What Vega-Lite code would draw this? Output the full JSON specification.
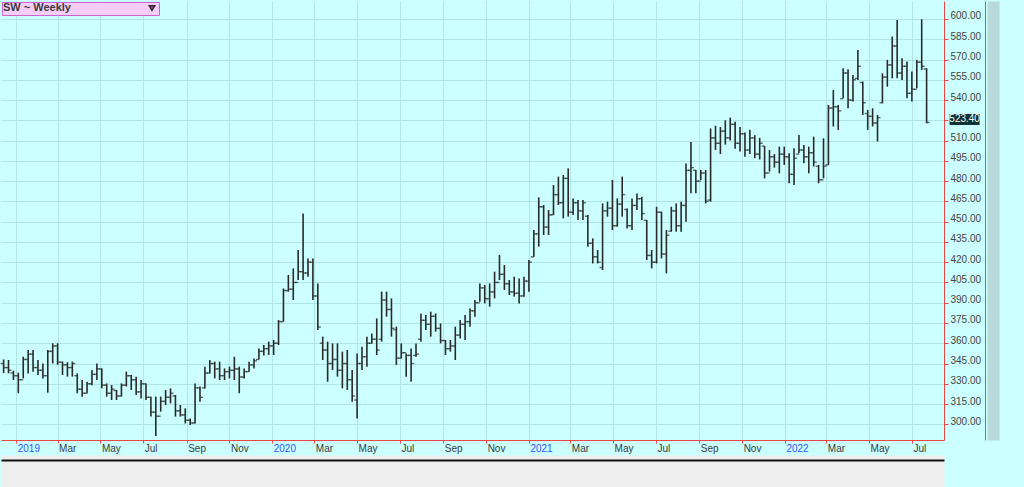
{
"$schema": "https://vega.github.io/schema/vega-lite/v6.json",
"autosize": "none",
"width": 943,
"height": 439,
"padding": {"left": 1, "top": 1, "right": 80, "bottom": 47},
"background": "#ccffff",
"config": {"view": {"stroke": null, "fill": "#ccffff"}, "font": "Liberation Sans"},
"data": {"values": [
{"d":"2018-12-14","o":345,"h":348,"l":338,"c":342},
{"d":"2018-12-21","o":342,"h":347.6,"l":337.7,"c":340},
{"d":"2018-12-28","o":338,"h":339.7,"l":332.8,"c":336},
{"d":"2019-01-04","o":336,"h":338.2,"l":323,"c":333},
{"d":"2019-01-11","o":333,"h":350,"l":334,"c":348},
{"d":"2019-01-18","o":348,"h":355,"l":337.7,"c":352},
{"d":"2019-01-25","o":352,"h":355,"l":339,"c":342},
{"d":"2019-02-01","o":342,"h":347.6,"l":336.5,"c":340},
{"d":"2019-02-08","o":340,"h":345,"l":334,"c":336},
{"d":"2019-02-15","o":336,"h":355,"l":323.4,"c":354},
{"d":"2019-02-22","o":354,"h":360,"l":345,"c":358},
{"d":"2019-03-01","o":358,"h":360,"l":344,"c":346},
{"d":"2019-03-08","o":346,"h":346.4,"l":336.5,"c":344},
{"d":"2019-03-15","o":344,"h":346,"l":335.3,"c":342},
{"d":"2019-03-22","o":342,"h":346.4,"l":335.3,"c":345},
{"d":"2019-03-29","o":336,"h":337.7,"l":323,"c":326},
{"d":"2019-04-05","o":326,"h":332.8,"l":320.5,"c":323},
{"d":"2019-04-12","o":323,"h":331.6,"l":323,"c":330},
{"d":"2019-04-19","o":330,"h":340.2,"l":329,"c":337},
{"d":"2019-04-26","o":337,"h":345,"l":332.8,"c":341},
{"d":"2019-05-03","o":341,"h":341.4,"l":326.6,"c":329},
{"d":"2019-05-10","o":329,"h":330.3,"l":320.5,"c":323},
{"d":"2019-05-17","o":323,"h":329,"l":318,"c":326},
{"d":"2019-05-24","o":325,"h":325.4,"l":318,"c":321},
{"d":"2019-05-31","o":321,"h":330.3,"l":320.5,"c":329},
{"d":"2019-06-07","o":329,"h":339,"l":328,"c":336},
{"d":"2019-06-14","o":336,"h":336.5,"l":325.4,"c":333},
{"d":"2019-06-21","o":333,"h":335.3,"l":321.7,"c":324},
{"d":"2019-06-28","o":324,"h":332.8,"l":319.2,"c":330},
{"d":"2019-07-05","o":330,"h":330.3,"l":318,"c":320},
{"d":"2019-07-12","o":320,"h":320.5,"l":305.7,"c":309},
{"d":"2019-07-19","o":309,"h":320.5,"l":291.4,"c":306},
{"d":"2019-07-26","o":306,"h":320.5,"l":309.4,"c":317},
{"d":"2019-08-02","o":317,"h":325.4,"l":314.3,"c":320},
{"d":"2019-08-09","o":320,"h":326.6,"l":315.5,"c":323},
{"d":"2019-08-16","o":321,"h":321.7,"l":305.7,"c":310},
{"d":"2019-08-23","o":310,"h":314.3,"l":305.7,"c":307},
{"d":"2019-08-30","o":307,"h":311.8,"l":300.7,"c":303},
{"d":"2019-09-06","o":303,"h":304.4,"l":299.5,"c":301},
{"d":"2019-09-13","o":301,"h":330.3,"l":300.7,"c":327},
{"d":"2019-09-20","o":327,"h":328,"l":316.8,"c":320},
{"d":"2019-09-27","o":327,"h":342.7,"l":326.6,"c":338},
{"d":"2019-10-04","o":338,"h":347.6,"l":337.7,"c":345},
{"d":"2019-10-11","o":345,"h":346.4,"l":334,"c":341},
{"d":"2019-10-18","o":341,"h":346.4,"l":332.8,"c":336},
{"d":"2019-10-25","o":336,"h":341.4,"l":332.8,"c":339},
{"d":"2019-11-01","o":339,"h":342.7,"l":334,"c":340},
{"d":"2019-11-08","o":340,"h":350,"l":332.8,"c":341},
{"d":"2019-11-15","o":341,"h":342.7,"l":323,"c":335},
{"d":"2019-11-22","o":335,"h":341.4,"l":334,"c":339},
{"d":"2019-11-29","o":339,"h":346.4,"l":339,"c":344},
{"d":"2019-12-06","o":344,"h":348.8,"l":341.4,"c":347},
{"d":"2019-12-13","o":348,"h":356.2,"l":348,"c":354},
{"d":"2019-12-20","o":354,"h":358.7,"l":351,"c":356},
{"d":"2019-12-27","o":356,"h":361.2,"l":351.3,"c":358},
{"d":"2020-01-03","o":358,"h":362.4,"l":351.3,"c":360},
{"d":"2020-01-10","o":360,"h":377.2,"l":358.7,"c":376},
{"d":"2020-01-17","o":376,"h":400.6,"l":376,"c":399},
{"d":"2020-01-24","o":399,"h":410.5,"l":398.2,"c":400},
{"d":"2020-01-31","o":400,"h":415.4,"l":392,"c":405},
{"d":"2020-02-07","o":405,"h":429,"l":406.8,"c":413},
{"d":"2020-02-14","o":413,"h":456.1,"l":406.8,"c":412},
{"d":"2020-02-21","o":412,"h":422.8,"l":409.3,"c":420},
{"d":"2020-02-28","o":420,"h":422.8,"l":392,"c":395},
{"d":"2020-03-06","o":395,"h":404.3,"l":369.8,"c":372},
{"d":"2020-03-13","o":360,"h":364.9,"l":347.6,"c":355},
{"d":"2020-03-20","o":355,"h":361.2,"l":331.5,"c":345},
{"d":"2020-03-27","o":345,"h":359.9,"l":340.2,"c":348},
{"d":"2020-04-03","o":348,"h":359.9,"l":335.3,"c":340},
{"d":"2020-04-10","o":340,"h":353.8,"l":326.6,"c":345},
{"d":"2020-04-17","o":345,"h":355,"l":325.4,"c":333},
{"d":"2020-04-24","o":333,"h":340.2,"l":316.7,"c":321},
{"d":"2020-05-01","o":318,"h":352.5,"l":304.4,"c":345},
{"d":"2020-05-08","o":345,"h":357.5,"l":340.2,"c":350},
{"d":"2020-05-15","o":350,"h":364.9,"l":342.7,"c":360},
{"d":"2020-05-22","o":360,"h":367.3,"l":359.9,"c":363},
{"d":"2020-05-29","o":363,"h":378.4,"l":351.3,"c":355},
{"d":"2020-06-05","o":363,"h":398.2,"l":361.2,"c":392},
{"d":"2020-06-12","o":392,"h":398.2,"l":379.7,"c":385},
{"d":"2020-06-19","o":385,"h":393.2,"l":364.9,"c":371},
{"d":"2020-06-26","o":370,"h":372.3,"l":343.9,"c":349},
{"d":"2020-07-03","o":349,"h":359.9,"l":348.8,"c":353},
{"d":"2020-07-10","o":353,"h":352.5,"l":335.3,"c":351},
{"d":"2020-07-17","o":351,"h":356.2,"l":331.5,"c":345},
{"d":"2020-07-24","o":351,"h":359.9,"l":350.1,"c":352},
{"d":"2020-07-31","o":363,"h":382.1,"l":361.2,"c":377},
{"d":"2020-08-07","o":377,"h":380.9,"l":369.8,"c":374},
{"d":"2020-08-14","o":374,"h":383.4,"l":364.9,"c":380},
{"d":"2020-08-21","o":380,"h":382.1,"l":368.6,"c":371},
{"d":"2020-08-28","o":371,"h":374.7,"l":359.9,"c":362},
{"d":"2020-09-04","o":362,"h":362.4,"l":351.3,"c":356},
{"d":"2020-09-11","o":356,"h":362.4,"l":353.8,"c":358},
{"d":"2020-09-18","o":358,"h":372.3,"l":347.6,"c":366},
{"d":"2020-09-25","o":366,"h":377.2,"l":363.6,"c":374},
{"d":"2020-10-02","o":374,"h":380.9,"l":362.4,"c":376},
{"d":"2020-10-09","o":376,"h":385.8,"l":372.3,"c":384},
{"d":"2020-10-16","o":384,"h":392,"l":379.7,"c":390},
{"d":"2020-10-23","o":390,"h":404.3,"l":390.8,"c":401},
{"d":"2020-10-30","o":401,"h":403.1,"l":389.5,"c":393},
{"d":"2020-11-06","o":393,"h":404.3,"l":387.1,"c":398},
{"d":"2020-11-13","o":398,"h":413,"l":393.2,"c":405},
{"d":"2020-11-20","o":405,"h":425.3,"l":406.8,"c":411},
{"d":"2020-11-27","o":411,"h":417.9,"l":399.4,"c":404},
{"d":"2020-12-04","o":404,"h":406.8,"l":395.7,"c":398},
{"d":"2020-12-11","o":398,"h":409.3,"l":394.5,"c":397},
{"d":"2020-12-18","o":397,"h":408,"l":389.5,"c":395},
{"d":"2020-12-25","o":395,"h":409.3,"l":394.5,"c":406},
{"d":"2021-01-01","o":406,"h":421.6,"l":398.2,"c":420},
{"d":"2021-01-08","o":424,"h":443.8,"l":424.1,"c":441},
{"d":"2021-01-15","o":441,"h":468,"l":431.5,"c":461},
{"d":"2021-01-22","o":461,"h":462.3,"l":440.1,"c":446},
{"d":"2021-01-29","o":446,"h":458.6,"l":440.1,"c":455},
{"d":"2021-02-05","o":455,"h":477.1,"l":454.9,"c":470},
{"d":"2021-02-12","o":470,"h":483.3,"l":462.3,"c":464},
{"d":"2021-02-19","o":464,"h":484.5,"l":452.4,"c":482},
{"d":"2021-02-26","o":482,"h":489.4,"l":453.7,"c":457},
{"d":"2021-03-05","o":457,"h":467.2,"l":454.9,"c":464},
{"d":"2021-03-12","o":464,"h":466,"l":451.2,"c":458},
{"d":"2021-03-19","o":458,"h":466,"l":451.2,"c":464},
{"d":"2021-03-26","o":454,"h":454.9,"l":431.5,"c":434},
{"d":"2021-04-02","o":434,"h":437.6,"l":419.1,"c":424},
{"d":"2021-04-09","o":424,"h":429,"l":419.1,"c":420},
{"d":"2021-04-16","o":416,"h":463.5,"l":414.2,"c":458},
{"d":"2021-04-23","o":458,"h":464.8,"l":453.7,"c":460},
{"d":"2021-04-30","o":460,"h":480.8,"l":443.8,"c":447},
{"d":"2021-05-07","o":447,"h":467.2,"l":446.3,"c":463},
{"d":"2021-05-14","o":463,"h":483.3,"l":453.7,"c":470},
{"d":"2021-05-21","o":459,"h":459.8,"l":445,"c":447},
{"d":"2021-05-28","o":447,"h":467.2,"l":443.8,"c":462},
{"d":"2021-06-04","o":462,"h":470.9,"l":458.6,"c":467},
{"d":"2021-06-11","o":467,"h":468.5,"l":451.2,"c":456},
{"d":"2021-06-18","o":451,"h":451.2,"l":421.6,"c":425},
{"d":"2021-06-25","o":425,"h":429,"l":415.4,"c":420},
{"d":"2021-07-02","o":420,"h":461,"l":419.1,"c":457},
{"d":"2021-07-09","o":457,"h":457.4,"l":422.8,"c":426},
{"d":"2021-07-16","o":426,"h":443.8,"l":411.7,"c":440},
{"d":"2021-07-23","o":443,"h":461,"l":442.6,"c":458},
{"d":"2021-07-30","o":458,"h":463.5,"l":442.6,"c":447},
{"d":"2021-08-06","o":447,"h":464.8,"l":442.6,"c":462},
{"d":"2021-08-13","o":462,"h":493.1,"l":450,"c":488},
{"d":"2021-08-20","o":488,"h":509,"l":471,"c":490},
{"d":"2021-08-27","o":488,"h":488.2,"l":471,"c":480},
{"d":"2021-09-03","o":480,"h":488.2,"l":480.8,"c":486},
{"d":"2021-09-10","o":486,"h":488.2,"l":463.5,"c":465},
{"d":"2021-09-17","o":466,"h":519,"l":464.8,"c":512},
{"d":"2021-09-24","o":512,"h":521,"l":503,"c":508},
{"d":"2021-10-01","o":508,"h":520,"l":500,"c":517},
{"d":"2021-10-08","o":517,"h":525,"l":507,"c":512},
{"d":"2021-10-15","o":512,"h":527,"l":510,"c":522},
{"d":"2021-10-22","o":522,"h":524,"l":504,"c":508},
{"d":"2021-10-29","o":508,"h":520,"l":502,"c":515},
{"d":"2021-11-05","o":515,"h":516,"l":498,"c":503},
{"d":"2021-11-12","o":503,"h":518,"l":500,"c":512},
{"d":"2021-11-19","o":512,"h":514,"l":497,"c":500},
{"d":"2021-11-26","o":500,"h":512,"l":496,"c":508},
{"d":"2021-12-03","o":506,"h":506,"l":482,"c":486},
{"d":"2021-12-10","o":486,"h":503,"l":487,"c":498},
{"d":"2021-12-17","o":498,"h":500,"l":490,"c":494},
{"d":"2021-12-24","o":494,"h":505.5,"l":485.8,"c":500},
{"d":"2021-12-31","o":500,"h":505.5,"l":492,"c":498},
{"d":"2022-01-07","o":498,"h":500.6,"l":478.4,"c":485},
{"d":"2022-01-14","o":485,"h":504.3,"l":477.2,"c":497},
{"d":"2022-01-21","o":500,"h":514.2,"l":500.6,"c":503},
{"d":"2022-01-28","o":503,"h":506.8,"l":493.2,"c":498},
{"d":"2022-02-04","o":498,"h":505.5,"l":485.8,"c":501},
{"d":"2022-02-11","o":501,"h":512.9,"l":490.8,"c":494},
{"d":"2022-02-18","o":491,"h":492,"l":478.4,"c":481},
{"d":"2022-02-25","o":481,"h":511.7,"l":482.1,"c":491},
{"d":"2022-03-04","o":492,"h":536.4,"l":492,"c":534},
{"d":"2022-03-11","o":534,"h":547.5,"l":520.4,"c":535},
{"d":"2022-03-18","o":535,"h":536.4,"l":517.9,"c":532},
{"d":"2022-03-25","o":541,"h":563.5,"l":541.3,"c":560},
{"d":"2022-04-01","o":560,"h":562.8,"l":533.9,"c":540},
{"d":"2022-04-08","o":540,"h":558.6,"l":538.9,"c":555},
{"d":"2022-04-15","o":556,"h":577.1,"l":554.9,"c":565},
{"d":"2022-04-22","o":553,"h":553.7,"l":529,"c":538},
{"d":"2022-04-29","o":530,"h":532.7,"l":517.9,"c":528},
{"d":"2022-05-06","o":528,"h":533.9,"l":520.4,"c":523},
{"d":"2022-05-13","o":523,"h":529,"l":509.3,"c":527},
{"d":"2022-05-20","o":538,"h":559.8,"l":537.6,"c":557},
{"d":"2022-05-27","o":557,"h":569.7,"l":549.9,"c":566},
{"d":"2022-06-03","o":566,"h":587,"l":556.1,"c":580},
{"d":"2022-06-10","o":580,"h":599.3,"l":556.1,"c":560},
{"d":"2022-06-17","o":560,"h":570.9,"l":554.9,"c":565},
{"d":"2022-06-24","o":565,"h":568.5,"l":541.3,"c":545},
{"d":"2022-07-01","o":545,"h":561.1,"l":538.9,"c":548},
{"d":"2022-07-08","o":548,"h":569.7,"l":548.7,"c":568},
{"d":"2022-07-15","o":568,"h":599.8,"l":562.3,"c":565},
{"d":"2022-07-22","o":563,"h":563.5,"l":522.8,"c":523.4}
]},
"layer": [
  {"mark": {"type": "rule", "strokeWidth": 1.6},
   "encoding": {
     "x": {"field": "d", "type": "temporal", "title": null,
       "scale": {"domain": [{"year": 2018, "month": 12, "date": 10, "hours": 7}, {"year": 2022, "month": 8, "date": 15, "hours": 19}]},
       "axis": {"orient": "bottom", "tickCount": {"interval": "month", "step": 2},
         "labelExpr": "month(datum.value) == 0 ? timeFormat(datum.value, '%Y') : timeFormat(datum.value, '%b')",
         "labelColor": {"condition": {"test": "month(datum.value) == 0", "value": "#3355ff"}, "value": "#3a3a3a"},
         "labelAlign": "left", "labelPadding": 0, "labelOffset": 1, "labelFontSize": 10, "labelFont": "Liberation Sans",
         "tickSize": 3, "tickColor": "#ee4444", "domainColor": "#ee4444", "grid": true, "gridColor": "#afe5e5",
         "labelFlush": false, "labelOverlap": false}},
     "y": {"field": "l", "type": "quantitative", "title": null,
       "scale": {"domain": [288.4, 613.3], "nice": false, "zero": false},
       "axis": {"orient": "right", "values": [300,315,330,345,360,375,390,405,420,435,450,465,480,495,510,525,540,555,570,585,600],
         "labelExpr": "datum.value == 525 ? '' : format(datum.value, '.2f')",
         "grid": true, "gridColor": "#afe5e5", "domainColor": "#ee4444", "tickColor": "#ee4444", "tickSize": 4,
         "labelPadding": 2, "labelOffset": -3, "labelColor": "#444444", "labelFontSize": 10, "labelFont": "Liberation Sans"}},
     "y2": {"field": "h"},
     "color": {"datum": "SW ~ Weekly", "type": "nominal", "scale": {"range": ["#2a2a2a"]},
       "legend": {"orient": "top-left", "offset": 1, "title": "SW ~ Weekly", "titleOrient": "left", "titleFontSize": 11,
         "titleFontWeight": "bold", "titleColor": "#3c3c3c", "titleFont": "Liberation Sans", "titlePadding": 76,
         "labelExpr": "''", "labelOffset": 0, "symbolType": "triangle-down", "symbolSize": 30, "padding": 1,
         "fillColor": "#f6ccf8", "strokeColor": "#cc66cc", "cornerRadius": 0,
         "encode": {"symbols": {"update": {"fill": {"value": "#cc33cc"}, "stroke": {"value": "#cc33cc"}, "opacity": {"value": 1}}}}}}
   }},
  {"mark": {"type": "tick", "orient": "horizontal", "size": 3, "thickness": 1.4, "xOffset": -1.5, "color": "#2a2a2a"},
   "encoding": {
     "x": {"field": "d", "type": "temporal", "axis": {"orient": "bottom", "offset": 31, "domainWidth": 32, "domainColor": "#eeeeee", "ticks": false, "labels": false, "grid": false, "title": null}},
     "y": {"field": "o", "type": "quantitative", "axis": {"orient": "right", "offset": 41, "domainColor": "#ee4444", "ticks": false, "labels": false, "grid": false, "title": null}}}},
  {"mark": {"type": "tick", "orient": "horizontal", "size": 3, "thickness": 1.4, "xOffset": 1.5, "color": "#2a2a2a"},
   "encoding": {
     "x": {"field": "d", "type": "temporal", "axis": {"orient": "bottom", "offset": 20, "domainWidth": 2, "domainColor": "#111111", "ticks": false, "labels": false, "grid": false, "title": null}},
     "y": {"field": "c", "type": "quantitative", "axis": {"orient": "right", "offset": 49, "domainWidth": 12, "domainColor": "#b8dada", "ticks": false, "labels": false, "grid": false, "title": null}}}},
  {"transform": [{"filter": "datum.c == 523.4"}],
   "mark": {"type": "point", "shape": "M-1,-0.3667H1V0.3667H-1Z", "size": 900, "filled": true, "opacity": 1, "strokeWidth": 0, "xOffset": 38, "yOffset": -3, "color": "#0c3232"},
   "encoding": {"x": {"field": "d", "type": "temporal", "axis": null}, "y": {"field": "c", "type": "quantitative", "axis": null}}},
  {"transform": [{"filter": "datum.c == 523.4"}],
   "mark": {"type": "text", "dx": 38, "dy": -3, "color": "#ffffff", "fontSize": 10, "font": "Liberation Sans", "align": "center", "baseline": "middle"},
   "encoding": {"x": {"field": "d", "type": "temporal", "axis": null}, "y": {"field": "c", "type": "quantitative", "axis": null}, "text": {"field": "c", "type": "quantitative", "format": ".2f"}}}
],
"resolve": {"axis": {"y": "independent", "x": "independent"}}
}
